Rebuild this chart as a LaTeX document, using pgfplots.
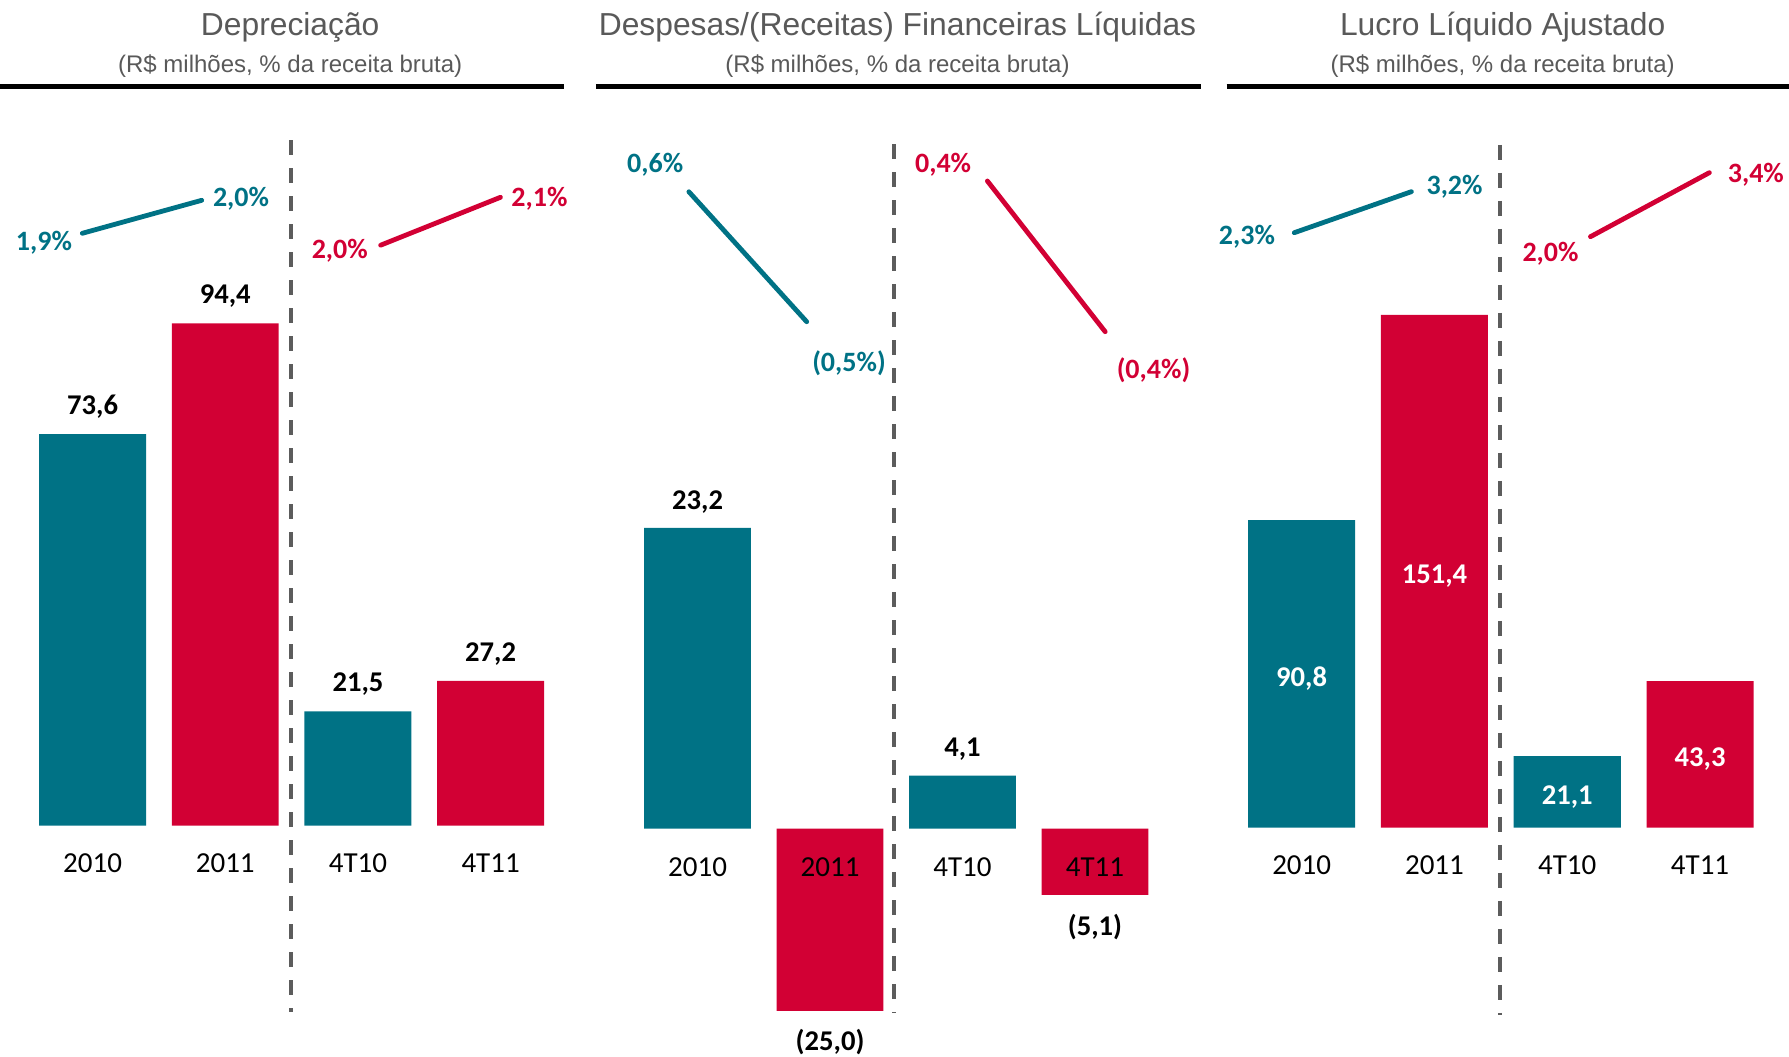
\documentclass[border=0pt]{standalone}
\usepackage{pgfplots}
\pgfplotsset{compat=1.18}
\usepackage{fontspec}
\setmainfont{Carlito}
\newfontfamily\arialf{Liberation Sans}
\definecolor{tealc}{RGB}{0,114,133}
\definecolor{redc}{RGB}{210,0,52}
\definecolor{titleg}{RGB}{89,89,89}
\definecolor{dashg}{RGB}{92,92,92}
\pgfplotsset{
  panel/.style={
    anchor=south west, enlargelimits=false, axis on top,
    axis line style={draw=none}, ytick=\empty, major tick length=0pt,
    xtick={0,1,2,3}, xticklabels={2010,2011,4T10,4T11}, xtick pos=bottom,
    xticklabel style={anchor=center, font=\fontsize{14.5}{17}\selectfont},
  },
  bars/.style={ybar, bar width=0.806, bar shift=0pt, draw=none},
  pct/.style={line width=2.4pt, line cap=round, mark=none},
}
\tikzset{
  val/.style={anchor=center, font=\bfseries\fontsize{14.3}{17}\selectfont},
  pl/.style={anchor=center, yshift=-0.85pt, font=\bfseries\fontsize{14}{17}\selectfont},
  dashl/.style={dashg, line width=2pt, dash pattern=on 7.5pt off 6.5pt},
  ttl/.style={anchor=base, text=titleg, font=\arialf\fontsize{15.9}{19}\selectfont},
  sub/.style={anchor=base, text=titleg, font=\arialf\fontsize{12}{14}\selectfont},
}
\begin{document}
\begin{tikzpicture}
\useasboundingbox (0pt,0pt) rectangle (894.5pt,528pt);
% titles
\node[ttl] at (145.1pt,510pt) {Depreciação};
\node[sub] at (145.1pt,491.65pt) {(R\$ milhões, \% da receita bruta)};
\node[ttl] at (448.75pt,510pt) {Despesas/(Receitas) Financeiras Líquidas};
\node[sub] at (448.75pt,491.65pt) {(R\$ milhões, \% da receita bruta)};
\node[ttl] at (751.35pt,510pt) {Lucro Líquido Ajustado};
\node[sub] at (751.35pt,491.65pt) {(R\$ milhões, \% da receita bruta)};
\draw[line width=2.6pt] (0pt,484.65pt) -- (281.85pt,484.65pt);
\draw[line width=2.6pt] (297.95pt,484.65pt) -- (600.45pt,484.65pt);
\draw[line width=2.6pt] (613.3pt,484.65pt) -- (894.5pt,484.65pt);

% Panel 1: Depreciacao
\begin{axis}[panel, at={(0.53pt,88.54pt)}, x=66.335pt, y=2.661pt,
  xmin=-0.69, xmax=3.69, ymin=-10, ymax=135, clip=false,
  xticklabel style={yshift=7.8pt}]
\addplot[bars, fill=tealc] coordinates {(0,73.6) (2,21.5)};
\addplot[bars, fill=redc] coordinates {(1,94.4) (3,27.2)};
\addplot[pct, tealc] coordinates {(-0.0776,111.31) (0.8223,117.51)};
\addplot[pct, redc] coordinates {(2.1716,109.08) (3.0746,118.08)};
\draw[dashl] (axis cs:1.4939,128.84) -- (axis cs:1.4939,-35.0);
\node[val, yshift=13.65pt] at (axis cs:0,73.6) {73,6};
\node[val, yshift=13.65pt] at (axis cs:1,94.4) {94,4};
\node[val, yshift=13.65pt] at (axis cs:2,21.5) {21,5};
\node[val, yshift=13.65pt] at (axis cs:3,27.2) {27,2};
\node[pl, text=tealc] at (axis cs:-0.3663,109.92) {1,9\%};
\node[pl, text=tealc] at (axis cs:1.1186,118.19) {2,0\%};
\node[pl, text=redc] at (axis cs:1.8633,108.32) {2,0\%};
\node[pl, text=redc] at (axis cs:3.3685,118.19) {2,1\%};
\end{axis}

% Panel 2: Despesas/(Receitas) Financeiras Liquidas
\begin{axis}[panel, at={(298.45pt,22.65pt)}, x=66.235pt, y=6.485pt,
  xmin=-0.76, xmax=3.76, ymin=-14.03, ymax=55, clip=true, clip mode=individual,
  xticklabel style={yshift=72pt}]
\addplot[bars, fill=tealc] coordinates {(0,23.2) (2,4.1)};
\addplot[bars, fill=redc] coordinates {(1,-25.0) (3,-5.1)};
\addplot[pct, tealc] coordinates {(-0.0657,49.11) (0.8236,39.09)};
\addplot[pct, redc] coordinates {(2.1877,49.94) (3.0769,38.32)};
\draw[dashl] (axis cs:1.4803,52.77) -- (axis cs:1.4803,-14.21);
\node[val, yshift=13pt] at (axis cs:0,23.2) {23,2};
\node[val, yshift=13pt] at (axis cs:2,4.1) {4,1};
\node[val, yshift=-15.5pt] at (axis cs:1,-14.03) {(25,0)};
\node[val, yshift=-16.3pt] at (axis cs:3,-5.1) {(5,1)};
\node[pl, text=tealc] at (axis cs:-0.3201,51.30) {0,6\%};
\node[pl, text=tealc] at (axis cs:1.1429,36.01) {(0,5\%)};
\node[pl, text=redc] at (axis cs:1.8533,51.35) {0,4\%};
\node[pl, text=redc] at (axis cs:3.4415,35.50) {(0,4\%)};
\end{axis}

% Panel 3: Lucro Liquido Ajustado
\begin{axis}[panel, at={(602.35pt,80.28pt)}, x=66.4pt, y=1.6935pt,
  xmin=-0.73, xmax=3.65, ymin=-20, ymax=205, clip=false,
  xticklabel style={yshift=15.22pt}]
\addplot[bars, fill=tealc] coordinates {(0,90.8) (2,21.1)};
\addplot[bars, fill=redc] coordinates {(1,151.4) (3,43.3)};
\addplot[pct, tealc] coordinates {(-0.0557,175.67) (0.8261,187.78)};
\addplot[pct, redc] coordinates {(2.1747,174.49) (3.0700,193.39)};
\draw[dashl] (axis cs:1.4932,201.57) -- (axis cs:1.4932,-55.30);
\node[val, text=white, yshift=-2.3pt] at (axis cs:0,45.4) {90,8};
\node[val, text=white, yshift=-2.3pt] at (axis cs:1,75.7) {151,4};
\node[val, text=white, yshift=-2.3pt] at (axis cs:2,10.55) {21,1};
\node[val, text=white, yshift=-2.3pt] at (axis cs:3,21.65) {43,3};
\node[pl, text=tealc] at (axis cs:-0.4119,174.99) {2,3\%};
\node[pl, text=tealc] at (axis cs:1.1514,189.76) {3,2\%};
\node[pl, text=redc] at (axis cs:1.8742,169.88) {2,0\%};
\node[pl, text=redc] at (axis cs:3.4202,193.39) {3,4\%};
\end{axis}
\end{tikzpicture}
\end{document}
